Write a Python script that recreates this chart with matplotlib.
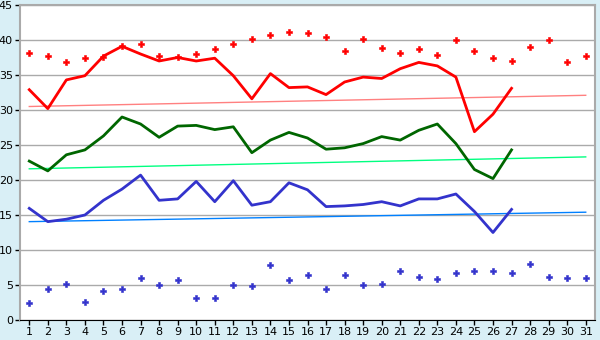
import numpy as np
import matplotlib
matplotlib.use("Agg")
import matplotlib.pyplot as plt

days = list(range(1, 32))
line_days = list(range(1, 28))

# red: line (days 1-27) and points (days 1-31)
red_line = [32.9, 30.2, 34.3, 34.9, 37.7, 39.1, 38.0, 37.0, 37.5, 37.0,
            37.4, 34.9, 31.6, 35.2, 33.2, 33.3, 32.2, 34.0, 34.7, 34.5,
            35.9, 36.8, 36.3, 34.7, 26.9, 29.4, 33.1]
red_pts = [38.1, 37.7, 36.8, 37.4, 37.6, 39.1, 39.5, 37.7, 37.6, 38.0,
           38.7, 39.4, 40.1, 40.7, 41.1, 41.0, 40.5, 38.4, 40.2, 38.8,
           38.2, 38.7, 37.8, 40.0, 38.4, 37.5, 37.0, 39.0, 40.0, 36.8, 37.7]

green_line = [22.7, 21.3, 23.6, 24.3, 26.3, 29.0, 28.0, 26.1, 27.7, 27.8,
              27.2, 27.6, 23.9, 25.7, 26.8, 26.0, 24.4, 24.6, 25.2, 26.2,
              25.7, 27.1, 28.0, 25.2, 21.5, 20.2, 24.3]

blue_line = [15.95, 14.05, 14.4, 15.0, 17.1, 18.7, 20.7, 17.1, 17.3, 19.8,
             16.9, 19.9, 16.4, 16.9, 19.6, 18.6, 16.2, 16.3, 16.5, 16.9,
             16.3, 17.3, 17.3, 18.0, 15.5, 12.5, 15.8]
blue_pts = [2.4, 4.4, 5.1, 2.6, 4.2, 4.5, 6.0, 5.0, 5.7, 3.2,
            3.2, 5.0, 4.8, 7.8, 5.7, 6.4, 4.4, 6.4, 5.0, 5.2,
            7.0, 6.2, 5.8, 6.7, 7.0, 7.0, 6.7, 8.0, 6.1, 6.0, 6.0]

# trend lines, value at day 1 and day 31
trend_days = [1, 31]
red_trend = [30.5, 32.1]
green_trend = [21.6, 23.3]
blue_trend = [14.05, 15.4]

fig = plt.figure(figsize=(6, 3.4), dpi=100)
fig.patch.set_facecolor("#d9eff6")
ax = fig.add_axes([20 / 600, 20 / 340, 575 / 600, 315 / 340])
ax.set_facecolor("white")

ax.plot(trend_days, red_trend, color="#ff8080", lw=1)
ax.plot(trend_days, green_trend, color="#00ff80", lw=1)
ax.plot(trend_days, blue_trend, color="#0080ff", lw=1)

ax.plot(line_days, red_line, color="#ff0000", lw=2)
ax.plot(line_days, green_line, color="#006600", lw=2)
ax.plot(line_days, blue_line, color="#3333cc", lw=2)

ax.plot(days, red_pts, ls="none", marker="P", ms=5, color="#ff0000",
        mec="#ff0000", mew=0.4)
ax.plot(days, blue_pts, ls="none", marker="P", ms=5, color="#3333cc",
        mec="#3333cc", mew=0.4)

ax.set_xlim(0.5, 31.5)
ax.set_ylim(0, 45)
ax.set_xticks(days)
ax.set_yticks(np.arange(0, 46, 5))
ax.yaxis.grid(True, color="#aaaaaa", lw=1)
ax.set_axisbelow(True)
ax.tick_params(labelsize=8, length=3.5, width=1, pad=1.5, colors="black")
for s in ["top", "right", "left"]:
    ax.spines[s].set_color("#aaaaaa")
    ax.spines[s].set_linewidth(1.5)
ax.spines["bottom"].set_color("black")

fig.savefig("out.png", dpi=100, facecolor=fig.get_facecolor())
